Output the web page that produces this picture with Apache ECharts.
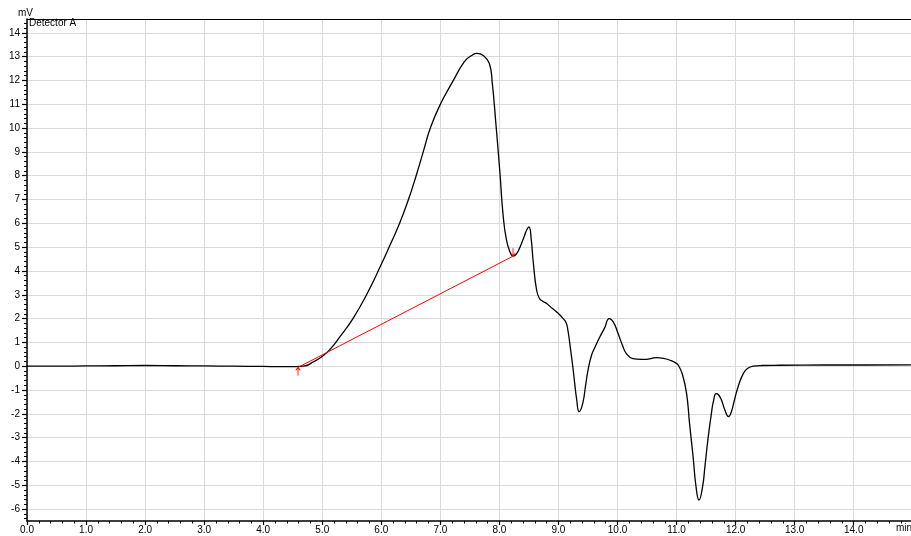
<!DOCTYPE html>
<html>
<head>
<meta charset="utf-8">
<script src="https://cdn.jsdelivr.net/npm/echarts@6/dist/echarts.min.js"></script>
<style>
  html, body { margin: 0; padding: 0; background: #fff; }
  #chart { width: 911px; height: 536px; }
</style>
</head>
<body>
<div id="chart"></div>
<script>
// ---- data ----
const timeMin = [
  0.00, 0.50, 1.00, 1.50, 2.00, 2.50, 3.00, 3.50, 4.00, 4.30, 4.50, 4.60,
  4.68, 4.85, 5.02, 5.15, 5.30, 5.52, 5.75, 6.00, 6.15, 6.31, 6.46, 6.59,
  6.71, 6.83, 7.00, 7.22, 7.41, 7.53, 7.62, 7.72, 7.83, 7.88, 7.94, 8.01,
  8.06, 8.12, 8.19, 8.23, 8.29, 8.35, 8.42,
  8.46, 8.50, 8.54, 8.57, 8.63, 8.68, 8.74, 8.80, 8.90, 8.97, 9.08, 9.13,
  9.16, 9.20, 9.25, 9.31, 9.35, 9.41, 9.46, 9.50, 9.56, 9.62, 9.70, 9.78,
  9.86, 9.93, 10.01, 10.08, 10.15, 10.26, 10.40, 10.49, 10.58, 10.66, 10.78,
  10.89, 10.97, 11.03, 11.10, 11.17, 11.22, 11.28, 11.33, 11.38, 11.44,
  11.48, 11.53, 11.59, 11.63, 11.67, 11.71, 11.76, 11.82, 11.88, 11.93,
  11.98, 12.05, 12.13, 12.20, 12.30, 12.45, 12.75, 13.50, 14.20, 14.97
];
const signalMV = [
  0.00, 0.00, 0.01, 0.02, 0.03, 0.02, 0.01, 0.00, -0.01, -0.02, -0.02, -0.01,
  0.00, 0.18, 0.45, 0.76, 1.24, 2.00, 3.00, 4.28, 5.10, 6.00, 7.00, 8.00,
  9.00, 10.00, 11.00, 12.00, 12.80, 13.05, 13.14, 13.06, 12.71, 11.87, 10.19, 8.09,
  6.41, 5.29, 4.73, 4.62, 4.72, 5.01, 5.45,
  5.71, 5.85, 5.30, 4.45, 3.19, 2.84, 2.72, 2.63, 2.42, 2.28, 2.00, 1.82,
  1.51, 0.80, -0.17, -1.43, -1.91, -1.57, -0.80, -0.17, 0.46, 0.81, 1.23, 1.60,
  2.00, 1.85, 1.37, 0.90, 0.53, 0.32, 0.29, 0.29, 0.33, 0.36, 0.33,
  0.25, 0.16, 0.04, -0.35, -1.15, -2.41, -3.80, -5.07, -5.62, -5.07,
  -4.22, -3.10, -1.98, -1.40, -1.15, -1.20, -1.42, -1.85, -2.12, -1.90,
  -1.42, -0.80, -0.31, -0.10, 0.00, 0.03, 0.04, 0.05, 0.05, 0.06
];
// integration baseline (red) end points
const baselineT = [4.59, 8.23];
const baselineV = [-0.05, 4.62];

// tick labels
const xTicks = [0, 1, 2, 3, 4, 5, 6, 7, 8, 9, 10, 11, 12, 13, 14];
const yTicks = [-6, -5, -4, -3, -2, -1, 0, 1, 2, 3, 4, 5, 6, 7, 8, 9, 10, 11, 12, 13, 14];
const axisTitleY = 'mV';
const axisTitleX = 'min';
const detectorName = 'Detector A';

// minor tick positions (every 0.2)
const xMinor = [];
for (let i = 0; i <= 74; i++) { if (i % 5) xMinor.push(+(i * 0.2).toFixed(1)); }
const yMinor = [];
for (let i = -32; i <= 72; i++) { if (i % 5) yMinor.push(+(i * 0.2).toFixed(1)); }

const X_MIN = 0, X_MAX = 14.97, Y_MIN = -6.5, Y_MAX = 14.58;
const FONT = 'Liberation Sans, Arial, sans-serif';

const chart = echarts.init(document.getElementById('chart'), null, { renderer: 'canvas' });

const upArrow = 'path://M3,0 L3,8 M0,3 L3,0 L6,3';
const downArrow = 'path://M3,0 L3,8 M0,5 L3,8 L6,5';

chart.setOption({
  animation: false,
  backgroundColor: '#ffffff',
  grid: { left: 27, right: 0, top: 19, bottom: 15, containLabel: false },
  xAxis: [
    {
      type: 'value', min: X_MIN, max: X_MAX, position: 'bottom',
      axisLine: { show: true, onZero: false, lineStyle: { color: '#000', width: 1.5 } },
      axisTick: { show: true, inside: false, length: 4, customValues: xTicks, lineStyle: { color: '#000', width: 1.2 } },
      axisLabel: {
        show: true, customValues: xTicks, margin: 4, color: '#000',
        fontFamily: FONT, fontSize: 10,
        formatter: v => v.toFixed(1)
      },
      splitLine: { show: true, lineStyle: { color: '#dadada', width: 1 } }
    },
    {
      type: 'value', min: X_MIN, max: X_MAX, position: 'bottom',
      axisLine: { show: false, onZero: false },
      axisTick: { show: true, inside: false, length: 2.5, customValues: xMinor, lineStyle: { color: '#000', width: 1 } },
      axisLabel: { show: false },
      splitLine: { show: false }
    },
    {
      type: 'value', min: X_MIN, max: X_MAX, position: 'top',
      axisLine: { show: true, onZero: false, lineStyle: { color: '#000', width: 1 } },
      axisTick: { show: false },
      axisLabel: { show: false },
      splitLine: { show: false }
    }
  ],
  yAxis: [
    {
      type: 'value', min: Y_MIN, max: Y_MAX, position: 'left',
      axisLine: { show: true, onZero: false, lineStyle: { color: '#000', width: 1.5 } },
      axisTick: { show: true, inside: false, length: 5, customValues: yTicks, lineStyle: { color: '#000', width: 1.2 } },
      axisLabel: {
        show: true, customValues: yTicks, margin: 7, color: '#000',
        fontFamily: FONT, fontSize: 10
      },
      splitLine: { show: true, lineStyle: { color: '#dadada', width: 1 } }
    },
    {
      type: 'value', min: Y_MIN, max: Y_MAX, position: 'left', offset: 0,
      axisLine: { show: false, onZero: false },
      axisTick: { show: true, inside: false, length: 3, customValues: yMinor, lineStyle: { color: '#000', width: 1 } },
      axisLabel: { show: false },
      splitLine: { show: false }
    }
  ],
  series: [
    {
      name: detectorName,
      type: 'line',
      xAxisIndex: 0, yAxisIndex: 0,
      data: timeMin.map((t, i) => [t, signalMV[i]]),
      showSymbol: false,
      symbol: 'none',
      smooth: 0.5,
      lineStyle: { color: '#000', width: 1.3 },
      z: 3
    },
    {
      name: 'baseline',
      type: 'line',
      xAxisIndex: 0, yAxisIndex: 0,
      data: [
        { value: [baselineT[0], baselineV[0]], symbol: upArrow, symbolOffset: [0, 4] },
        { value: [baselineT[1], baselineV[1]], symbol: downArrow, symbolOffset: [0, -4] }
      ],
      showSymbol: true,
      symbolSize: [6, 8],
      symbolKeepAspect: true,
      itemStyle: { color: 'rgba(0,0,0,0)', borderColor: '#ff0000', borderWidth: 1 },
      lineStyle: { color: '#ff0000', width: 1 },
      z: 4
    }
  ],
  graphic: [
    { type: 'text', left: 18, top: 8, style: { text: axisTitleY, font: '10px ' + FONT, fill: '#000' } },
    { type: 'text', left: 29, top: 18, style: { text: detectorName, font: '10px ' + FONT, fill: '#000' } },
    { type: 'text', left: 896, top: 523, style: { text: axisTitleX, font: '10px ' + FONT, fill: '#000' } }
  ]
});
</script>
</body>
</html>
